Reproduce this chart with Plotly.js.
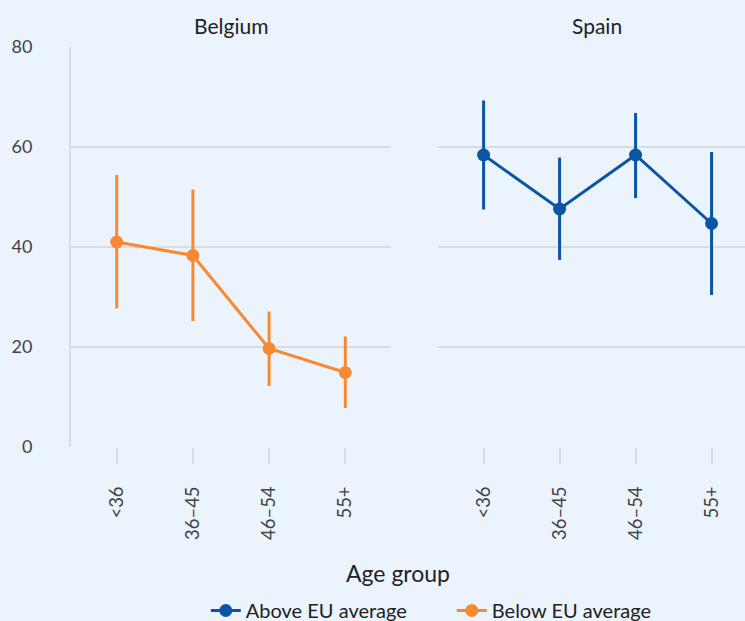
<!DOCTYPE html>
<html>
<head>
<meta charset="utf-8">
<script src="https://cdn.plot.ly/plotly-3.0.1.min.js"></script>
<style>
html,body{margin:0;padding:0;overflow:hidden;background:#EBF3FC;}
#chart{width:745px;height:621px;}
</style>
</head>
<body>
<div id="chart"></div>
<script>
const ageGroups = ["<36", "36–45", "46–54", "55+"];
const countries = ["Belgium", "Spain"];

const belgiumValues = [41.0, 38.3, 19.7, 14.9];
const belgiumUpper = [54.4, 51.5, 27.1, 22.1];
const belgiumLower = [27.7, 25.2, 12.2, 7.8];

const spainValues = [58.4, 47.6, 58.4, 44.7];
const spainUpper = [69.3, 57.9, 66.8, 59.0];
const spainLower = [47.5, 37.4, 49.8, 30.4];

const seriesNames = ["Above EU average", "Below EU average"];
const yTicks = [0, 20, 40, 60, 80];

const BLUE = "#0A56A4";
const ORANGE = "#F68A33";
const GRID = "#D8DDE3";
const FONT = "Lato, 'Noto Sans', sans-serif";

function errArrays(vals, up, lo) {
  return {
    type: "data", symmetric: false,
    array: up.map((u, i) => u - vals[i]),
    arrayminus: vals.map((v, i) => v - lo[i]),
    thickness: 3, width: 0
  };
}

const traces = [
  {
    x: ageGroups, y: spainValues, xaxis: "x2", yaxis: "y2",
    name: seriesNames[0], type: "scatter", mode: "lines+markers",
    line: {color: BLUE, width: 3}, marker: {color: BLUE, size: 13},
    error_y: Object.assign(errArrays(spainValues, spainUpper, spainLower), {color: BLUE})
  },
  {
    x: ageGroups, y: belgiumValues, xaxis: "x", yaxis: "y",
    name: seriesNames[1], type: "scatter", mode: "lines+markers",
    line: {color: ORANGE, width: 3}, marker: {color: ORANGE, size: 13},
    error_y: Object.assign(errArrays(belgiumValues, belgiumUpper, belgiumLower), {color: ORANGE})
  }
];

const xCommon = {
  type: "category", categoryorder: "array", categoryarray: ageGroups,
  tickangle: -90, ticks: "outside", ticklen: 16, tickwidth: 2, tickcolor: GRID,
  showgrid: false, zeroline: false, showline: false, automargin: false,
  tickfont: {family: FONT, size: 18.5, color: "#444"},
  ticklabelstandoff: 15, fixedrange: true
};
const yCommon = {
  range: [0, 80], tickvals: yTicks, showgrid: true, gridcolor: GRID, gridwidth: 1.5,
  zeroline: false, fixedrange: true, automargin: false,
  tickfont: {family: FONT, size: 18, color: "#444"}
};

const layout = {
  width: 745, height: 621,
  paper_bgcolor: "#EBF3FC", plot_bgcolor: "#EBF3FC",
  margin: {l: 71, r: 0, t: 47, b: 174, autoexpand: false},
  font: {family: FONT, color: "#222"},
  showlegend: true,
  legend: {
    orientation: "h", x: 0.2, xanchor: "left", y: -0.36, yanchor: "top",
    font: {family: FONT, size: 20, color: "#222"}, bgcolor: "rgba(0,0,0,0)",
    itemwidth: 30, entrywidth: 201, entrywidthmode: "pixels"
  },
  xaxis: Object.assign({}, xCommon, {domain: [0, 0.4748], range: [-0.6, 3.6], anchor: "y"}),
  xaxis2: Object.assign({}, xCommon, {domain: [0.5445, 1], range: [-0.6, 3.44], anchor: "y2"}),
  yaxis: Object.assign({}, yCommon, {showline: true, linecolor: GRID, linewidth: 2, ticklabelstandoff: 33, anchor: "x"}),
  yaxis2: Object.assign({}, yCommon, {showticklabels: false, showline: false, anchor: "x2", matches: "y"}),
  annotations: [
    {text: countries[0], xref: "paper", yref: "paper", x: 0.2374, y: 1.055, showarrow: false,
     xanchor: "center", yanchor: "middle", font: {family: FONT, size: 21, color: "#222"}},
    {text: countries[1], xref: "paper", yref: "paper", x: 0.780, y: 1.055, showarrow: false,
     xanchor: "center", yanchor: "middle", font: {family: FONT, size: 21, color: "#222"}},
    {text: "Age group", xref: "paper", yref: "paper", x: 0.485, y: -0.315, showarrow: false,
     xanchor: "center", yanchor: "middle", font: {family: FONT, size: 23, color: "#222"}}
  ]
};

Plotly.newPlot("chart", traces, layout, {displayModeBar: false, staticPlot: true});
</script>
</body>
</html>
